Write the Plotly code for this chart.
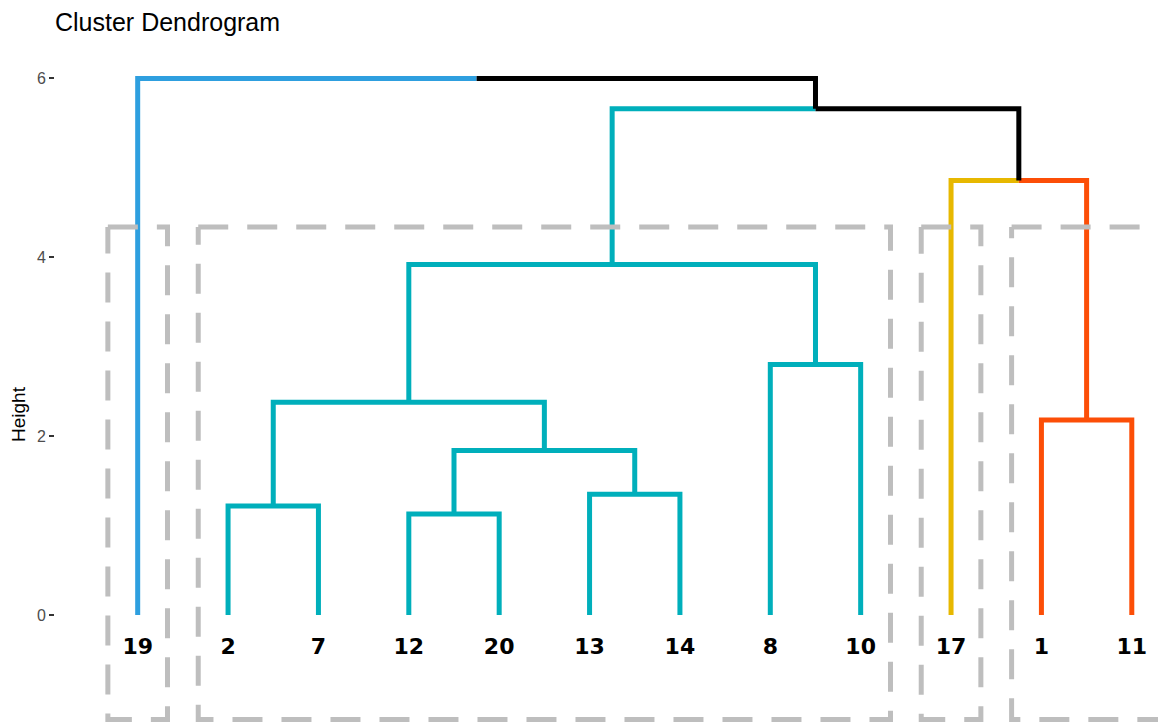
import plotly.graph_objects as go

# Leaves in dendrogram order, with their cluster membership (k = 4)
leaf_labels = ["19", "2", "7", "12", "20", "13", "14", "8", "10", "17", "1", "11"]
leaf_cluster = [0, 1, 1, 1, 1, 1, 1, 1, 1, 2, 3, 3]
cluster_colors = ["#2E9FDF", "#00AFBB", "#E7B800", "#FC4E07"]

# hclust-style merge table: negative = leaf position (1-based), positive = earlier merge
merge_left = [-4, -2, -6, 1, -11, 2, -8, 6, -10, 8, -1]
merge_right = [-5, -3, -7, 3, -12, 4, -9, 7, 5, 9, 10]
merge_height = [1.13, 1.22, 1.35, 1.84, 2.18, 2.38, 2.80, 3.92, 4.86, 5.66, 6.0]

y_ticks = [0, 2, 4, 6]

LINE_W = 5
RECT_TOP = 4.34
RECT_BOTTOM = -1.17
RECT_PAD = 0.33
LABEL_Y = -0.37

fig = go.Figure()

nodes = []  # (x, height, color) for every merge


def info(ref):
    if ref < 0:
        i = -ref - 1
        return i + 1, 0.0, cluster_colors[leaf_cluster[i]]
    return nodes[ref - 1]


def add_path(xs, ys, color):
    fig.add_trace(go.Scatter(
        x=xs, y=ys, mode="lines",
        line=dict(color=color, width=LINE_W),
        hoverinfo="skip", showlegend=False,
    ))


for l, r, h in zip(merge_left, merge_right, merge_height):
    xl, hl, cl = info(l)
    xr, hr, cr = info(r)
    xm = (xl + xr) / 2
    if cl == cr:
        add_path([xl, xl, xr, xr], [hl, h, h, hr], cl)
        nodes.append((xm, h, cl))
    else:
        add_path([xl, xl, xm], [hl, h, h], cl)
        add_path([xm, xr, xr], [h, h, hr], cr)
        nodes.append((xm, h, "#000000"))

# Dashed boxes around each cluster
for k in range(len(cluster_colors)):
    pos = [i + 1 for i, c in enumerate(leaf_cluster) if c == k]
    x0, x1 = min(pos) - RECT_PAD, max(pos) + RECT_PAD
    fig.add_trace(go.Scatter(
        x=[x0, x1, x1, x0, x0],
        y=[RECT_TOP, RECT_TOP, RECT_BOTTOM, RECT_BOTTOM, RECT_TOP],
        mode="lines",
        line=dict(color="#BEBEBE", width=LINE_W, dash="30px,19px"),
        hoverinfo="skip", showlegend=False,
    ))

# Leaf labels
fig.add_trace(go.Scatter(
    x=list(range(1, len(leaf_labels) + 1)),
    y=[LABEL_Y] * len(leaf_labels),
    mode="text",
    text=[f"<b>{t}</b>" for t in leaf_labels],
    textfont=dict(family="DejaVu Sans", size=22, color="#000000"),
    textposition="middle center",
    hoverinfo="skip", showlegend=False,
))

fig.update_layout(
    width=1158, height=724,
    margin=dict(l=55, r=0, t=40, b=0),
    paper_bgcolor="white", plot_bgcolor="white",
    title=dict(
        text="Cluster Dendrogram",
        x=55 / 1158, xanchor="left", xref="container",
        y=1 - 22 / 724, yanchor="middle", yref="container",
        font=dict(family="Liberation Sans", size=25, color="#000000"),
    ),
    xaxis=dict(
        range=[0.085, 12.29], visible=False, showgrid=False, zeroline=False,
    ),
    yaxis=dict(
        range=[-1.219, 6.43],
        tickvals=y_ticks, ticktext=[str(v) for v in y_ticks],
        ticks="outside", ticklen=5, tickwidth=2, tickcolor="#333333",
        tickfont=dict(family="Liberation Sans", size=16, color="#4D4D4D"),
        ticklabelstandoff=0,
        showgrid=False, zeroline=False, showline=False,
    ),
    annotations=[dict(
        text="Height", textangle=-90,
        xref="paper", yref="paper",
        x=(18 - 55) / 1103, y=(724 - 414) / 684,
        xanchor="center", yanchor="middle", showarrow=False,
        font=dict(family="Liberation Sans", size=19, color="#000000"),
    )],
    hovermode=False,
)

fig.write_html("out.html")
